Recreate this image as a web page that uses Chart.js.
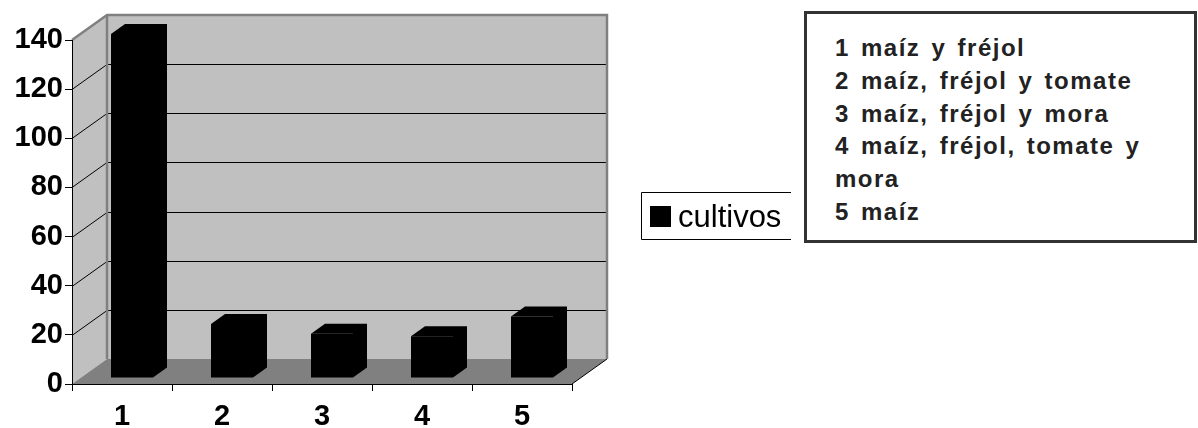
<!DOCTYPE html>
<html>
<head>
<meta charset="utf-8">
<script src="https://cdn.jsdelivr.net/npm/chart.js@4"></script>
<style>
  html, body { margin: 0; padding: 0; background: #fff; }
  #wrap { position: relative; width: 1198px; height: 428px; }
  #wrap canvas { position: absolute; left: 0; top: 0; }
  .notes {
    position: absolute; left: 804px; top: 11px; width: 393px; height: 232px;
    box-sizing: border-box; border: 3px solid #333; background: #fff;
    font: bold 24px "Liberation Sans", Arial, sans-serif;
    letter-spacing: 1.5px; word-spacing: 3px;
    color: #222; padding: 18px 0 0 28px; line-height: 32.8px;
  }
  .notes div { white-space: nowrap; }
</style>
</head>
<body>
<div id="wrap">
  <canvas id="myChart" width="1198" height="428"></canvas>
  <div class="notes" id="notes"></div>
</div>
<script>
// categories and values
const labels = ["1", "2", "3", "4", "5"];
const cultivos = [140, 22, 18, 17, 25];
const yTicks = [0, 20, 40, 60, 80, 100, 120, 140];
const notes = [
  "1 maíz y fréjol",
  "2 maíz, fréjol y tomate",
  "3 maíz, fréjol y mora",
  "4 maíz, fréjol, tomate y",
  "mora",
  "5 maíz",
];

// fill the text box
const notesBox = document.getElementById("notes");
for (let line of notes) {
  const d = document.createElement("div");
  d.textContent = line;
  notesBox.appendChild(d);
}

// depth of the 3d box and of the bars
const DX = 35, DY = -25;
const BAR_SHIFT_X = 10, BAR_SHIFT_Y = -6;
const BAR_DX = 14, BAR_DY = -10;

// walls, floor and the gridlines on them
const box3d = {
  id: "box3d",
  beforeDraw(chart) {
    const { ctx, chartArea: a, scales } = chart;
    const ys = scales.y;
    ctx.save();
    // side wall
    ctx.fillStyle = "#c0c0c0";
    ctx.beginPath();
    ctx.moveTo(a.left, a.top);
    ctx.lineTo(a.left + DX, a.top + DY);
    ctx.lineTo(a.left + DX, a.bottom + DY);
    ctx.lineTo(a.left, a.bottom);
    ctx.closePath();
    ctx.fill();
    // back wall
    ctx.fillRect(a.left + DX, a.top + DY, a.right - a.left, a.bottom - a.top);
    // floor
    ctx.fillStyle = "#808080";
    ctx.beginPath();
    ctx.moveTo(a.left, a.bottom);
    ctx.lineTo(a.right, a.bottom);
    ctx.lineTo(a.right + DX, a.bottom + DY);
    ctx.lineTo(a.left + DX, a.bottom + DY);
    ctx.closePath();
    ctx.fill();
    // gridlines
    ctx.strokeStyle = "#000";
    ctx.lineWidth = 1;
    for (let v of yTicks) {
      if (v === 0 || v === ys.max) continue;
      const py = Math.round(ys.getPixelForValue(v)) + 0.5;
      ctx.beginPath();
      ctx.moveTo(a.left, py);
      ctx.lineTo(a.left + DX, py + DY);
      ctx.lineTo(a.right + DX, py + DY);
      ctx.stroke();
    }
    // floor front-right edge
    ctx.beginPath();
    ctx.moveTo(a.right, a.bottom);
    ctx.lineTo(a.right + DX, a.bottom + DY);
    ctx.stroke();
    // wall borders
    ctx.strokeStyle = "#808080";
    ctx.lineWidth = 2.5;
    ctx.beginPath();
    ctx.moveTo(a.left, a.top);
    ctx.lineTo(a.left + DX, a.top + DY);
    ctx.lineTo(a.right + DX, a.top + DY);
    ctx.lineTo(a.right + DX, a.bottom + DY);
    ctx.moveTo(a.left + DX, a.top + DY);
    ctx.lineTo(a.left + DX, a.bottom + DY);
    ctx.stroke();
    ctx.restore();
  },
  beforeDatasetsDraw(chart) {
    chart.ctx.save();
    chart.ctx.translate(BAR_SHIFT_X, BAR_SHIFT_Y);
  },
  afterDatasetsDraw(chart) {
    const ctx = chart.ctx;
    // top and side faces of each bar
    const meta = chart.getDatasetMeta(0);
    ctx.fillStyle = "#000";
    for (let bar of meta.data) {
      const l = bar.x - bar.width / 2, r = bar.x + bar.width / 2;
      const t = bar.y, b = bar.base;
      ctx.beginPath();
      ctx.moveTo(l, t);
      ctx.lineTo(l + BAR_DX, t + BAR_DY);
      ctx.lineTo(r + BAR_DX, t + BAR_DY);
      ctx.lineTo(r + BAR_DX, b + BAR_DY);
      ctx.lineTo(r, b);
      ctx.lineTo(r, t);
      ctx.closePath();
      ctx.fill();
    }
    ctx.restore();
  },
  afterDraw(chart) {
    // legend box with its right side hidden by the notes box
    const ctx = chart.ctx;
    const ds = chart.data.datasets[0];
    ctx.save();
    ctx.strokeStyle = "#000";
    ctx.lineWidth = 1;
    ctx.beginPath();
    ctx.moveTo(791, 192.5);
    ctx.lineTo(641.5, 192.5);
    ctx.lineTo(641.5, 239.5);
    ctx.lineTo(791, 239.5);
    ctx.stroke();
    ctx.fillStyle = ds.backgroundColor;
    ctx.fillRect(650, 206, 21, 21);
    ctx.fillStyle = "#000";
    ctx.font = '31px "Liberation Sans", Arial, sans-serif';
    ctx.textBaseline = "alphabetic";
    ctx.fillText(ds.label, 678, 227);
    ctx.restore();
  },
};

const tickFont = { family: '"Liberation Sans", Arial, sans-serif', size: 29, weight: "bold" };

const ctx = document.getElementById("myChart").getContext("2d");
const myChart = new Chart(ctx, {
  type: "bar",
  data: {
    labels: labels,
    datasets: [
      {
        label: "cultivos",
        data: cultivos,
        backgroundColor: "#000",
        borderWidth: 0,
        barPercentage: 0.42,
        categoryPercentage: 1,
        clip: false,
      },
    ],
  },
  options: {
    responsive: false,
    devicePixelRatio: 1,
    animation: false,
    layout: { padding: { left: 0, top: 40, right: 626, bottom: 0 } },
    plugins: { legend: { display: false }, tooltip: { enabled: false } },
    scales: {
      x: {
        grid: { offset: true, drawOnChartArea: false, color: "#000", tickLength: 7 },
        border: { color: "#000", width: 1 },
        ticks: { font: tickFont, color: "#000", padding: 9 },
        afterFit: (s) => { s.height = 44; },
      },
      y: {
        min: 0,
        max: 140,
        ticks: { stepSize: 20, font: tickFont, color: "#000", padding: 2 },
        grid: { drawOnChartArea: false, color: "#000", tickLength: 7 },
        border: { color: "#000", width: 1 },
        afterFit: (s) => { s.width = 72; },
      },
    },
  },
  plugins: [box3d],
});
</script>
</body>
</html>
